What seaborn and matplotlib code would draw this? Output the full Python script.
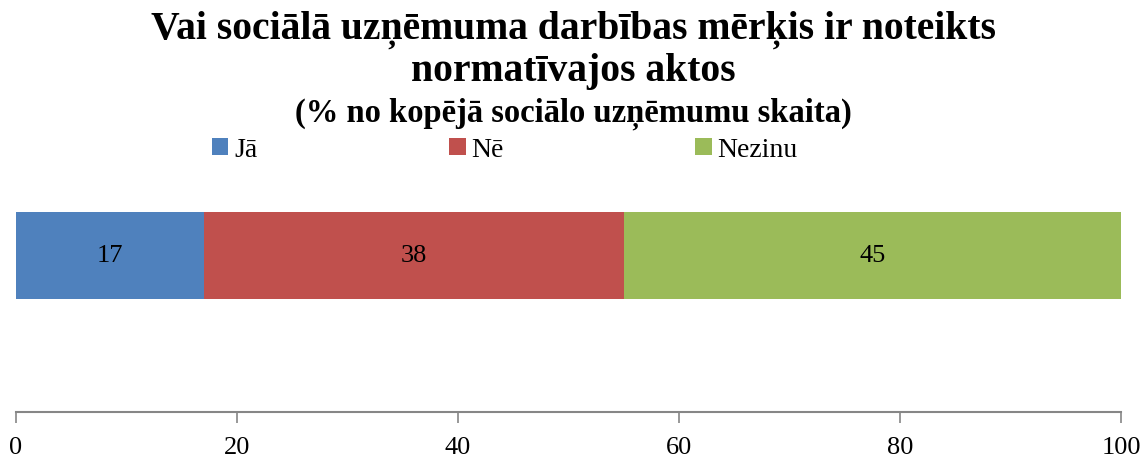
import numpy as np
import pandas as pd
import matplotlib
matplotlib.use("Agg")
import matplotlib.pyplot as plt
import seaborn as sns
from matplotlib.patches import Patch

# data
categories = ["Jā", "Nē", "Nezinu"]
values = [17, 38, 45]
colors = ["#4F81BD", "#C0504D", "#9BBB59"]
x_ticks = [0, 20, 40, 60, 80, 100]

sns.set_theme(style="white")
plt.rcParams["font.family"] = ["Liberation Serif", "DejaVu Serif"]
plt.rcParams["text.color"] = "black"

fig = plt.figure(figsize=(11.47, 4.6), dpi=100)
ax = fig.add_axes([16 / 1147, (460 - 413) / 460, (1121 - 16) / 1147, 243 / 460])

# stacked bar: draw cumulative totals from the largest down
cum = np.cumsum(values)
for i in range(len(values) - 1, -1, -1):
    df = pd.DataFrame({"row": [""], "value": [cum[i]]})
    sns.barplot(data=df, x="value", y="row", orient="h", color=colors[i],
                saturation=1, width=0.8, linewidth=0, ax=ax)

starts = cum - np.array(values)
for s, v in zip(starts, values):
    ax.text(s + v / 2, 0, str(v), ha="center", va="center", fontsize=19,
            color="black")

ax.set_xlim(0, 100)
ax.set_ylim(1.439, -0.795)
ax.set_xticks(x_ticks)
ax.set_xticklabels([str(t) for t in x_ticks], fontsize=19)
ax.set_yticks([])
ax.set_xlabel("")
ax.set_ylabel("")
for side in ["top", "left", "right"]:
    ax.spines[side].set_visible(False)
ax.spines["bottom"].set_color("#868686")
ax.spines["bottom"].set_linewidth(1.5)
ax.tick_params(axis="x", direction="out", length=8, width=1.2, color="#868686",
               pad=9, labelcolor="black", bottom=True)

fig.text(0.5, 0.935, "Vai sociālā uzņēmuma darbības mērķis ir noteikts",
         ha="center", va="center", fontsize=28.5, fontweight="bold")
fig.text(0.5, 0.845, "normatīvajos aktos",
         ha="center", va="center", fontsize=28.5, fontweight="bold")
fig.text(0.5, 0.753, "(% no kopējā sociālo uzņēmumu skaita)", ha="center", va="center",
         fontsize=23.5, fontweight="bold")

handles = [Patch(facecolor=c, edgecolor="none") for c in colors]
fig.legend(handles, categories, loc="center", bbox_to_anchor=(0.44, 0.672), ncol=3,
           frameon=False, fontsize=20, handlelength=0.6, handleheight=0.6,
           handletextpad=0.2, columnspacing=6.9, borderpad=0)

fig.savefig("out.png", dpi=100)
